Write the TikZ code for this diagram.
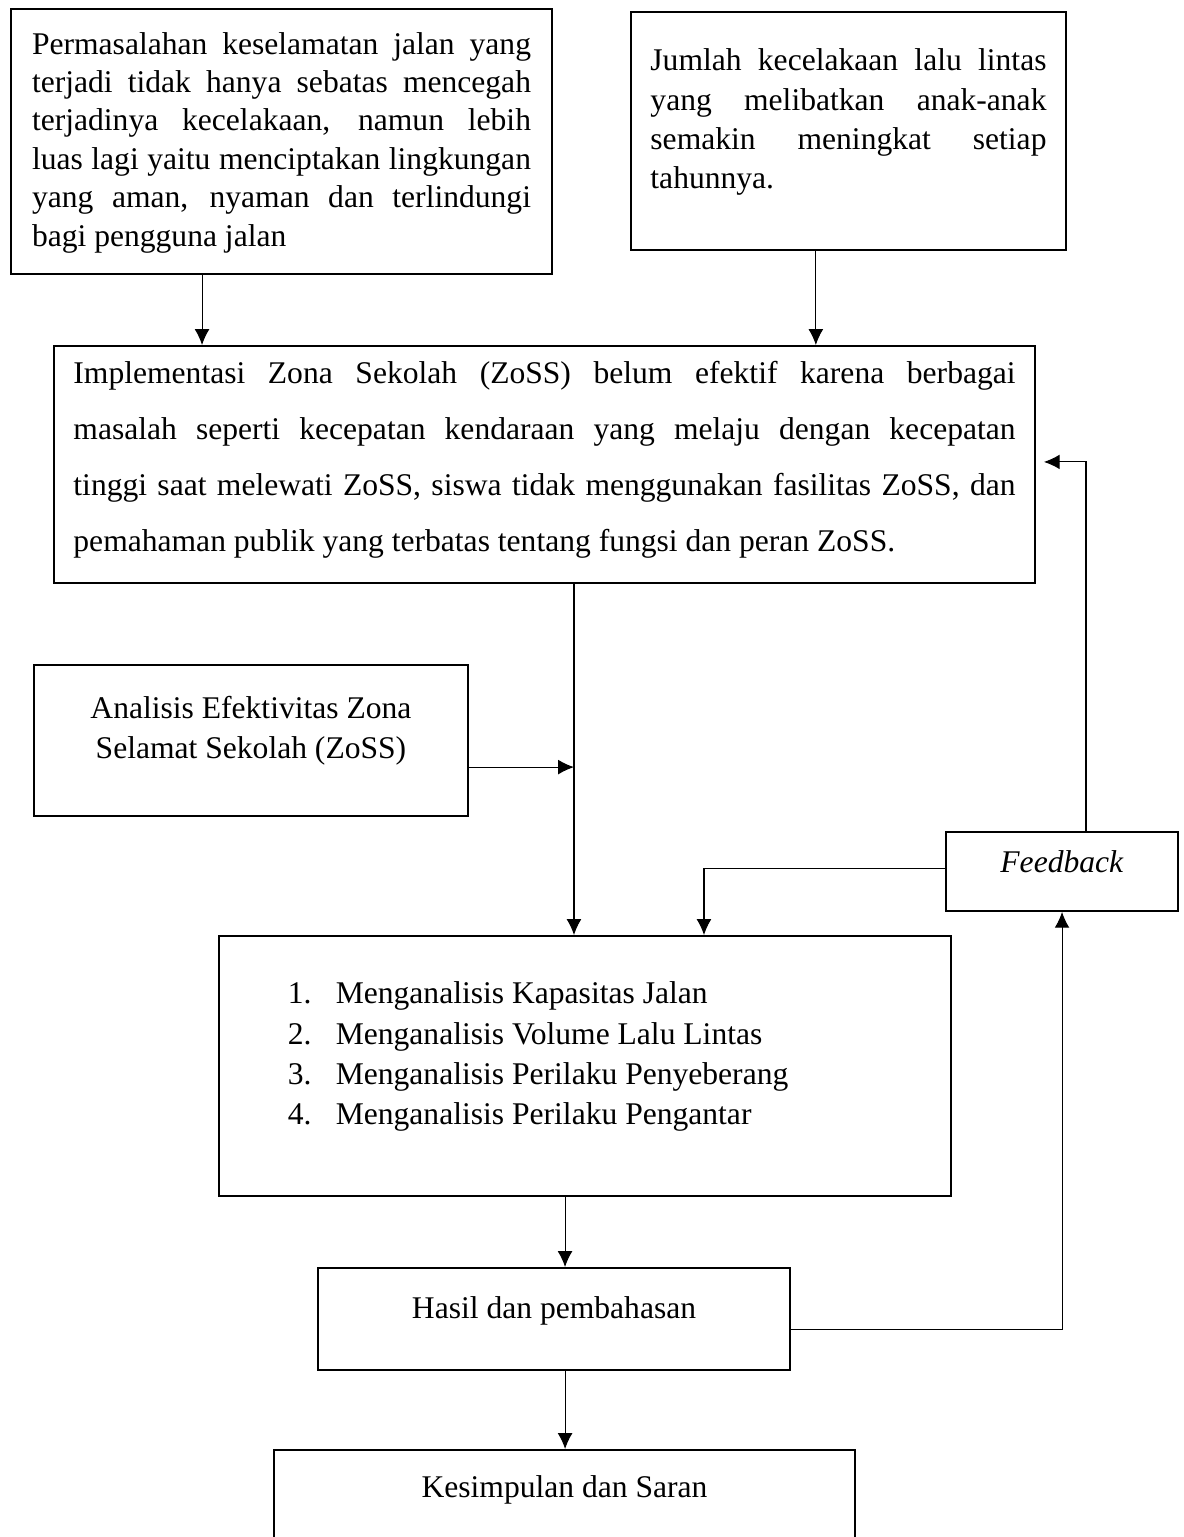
\documentclass[tikz,border=0pt]{standalone}
\usepackage{fontspec}
\setmainfont{Liberation Serif}
\usetikzlibrary{arrows.meta}
\newcommand{\padb}[1]{\rule[-#1]{0pt}{#1}}
\newcommand{\jline}[1]{{\spaceskip=0pt\xspaceskip=0pt\makebox[\hsize][s]{#1}}}
\tikzstyle{box} = [rectangle, draw, line width=0.75pt, anchor=north west,
    inner ysep=0pt, inner xsep=7.4pt, align=flush left, font=\fontsize{12}{14.8}\selectfont]
\tikzstyle{cbox} = [box, align=flush center]
\tikzstyle{line} = [draw, line width=0.4pt, -{Latex[length=6pt,width=5.6pt]}]
\begin{document}
\begin{tikzpicture}[x=0.38pt, y=-0.38pt]
    \useasboundingbox (0,0) rectangle (1184,1537);
    % Place nodes
    \node [box, text width=189.6pt, inner xsep=8pt, text height=17.1pt,
        font=\fontsize{12}{14.6}\selectfont] (perm) at (10,8)
        {\jline{Permasalahan keselamatan jalan yang}\\
         \jline{terjadi tidak hanya sebatas mencegah}\\
         \jline{terjadinya kecelakaan, namun lebih}\\
         \jline{luas lagi yaitu menciptakan lingkungan}\\
         \jline{yang aman, nyaman dan terlindungi}\\
         bagi pengguna jalan\padb{10.6pt}};
    \node [box, text width=150.5pt, text height=22.4pt,
        font=\fontsize{12}{14.9}\selectfont] (jumlah) at (630,11)
        {\jline{Jumlah kecelakaan lalu lintas}\\
         \jline{yang melibatkan anak-anak}\\
         \jline{semakin meningkat setiap}\\
         tahunnya.\padb{23.3pt}};
    \node [box, text width=358pt, text height=14.4pt,
        font=\fontsize{12}{21.2}\selectfont] (impl) at (53,345)
        {\jline{Implementasi Zona Sekolah (ZoSS) belum efektif karena berbagai}\\
         \jline{masalah seperti kecepatan kendaraan yang melaju dengan kecepatan}\\
         \jline{tinggi saat melewati ZoSS, siswa tidak menggunakan fasilitas ZoSS, dan}\\
         pemahaman publik yang terbatas tentang fungsi dan peran ZoSS.\padb{12.1pt}};
    \node [cbox, text width=150pt, inner xsep=7.45pt, text height=20.5pt,
        font=\fontsize{12}{15.2}\selectfont] (analisis) at (33,664)
        {Analisis Efektivitas Zona\\ Selamat Sekolah (ZoSS)\padb{21.7pt}};
    \node [cbox, text width=74pt, inner xsep=7.1pt, text height=15.2pt] (feedback) at (945,831)
        {\textit{Feedback}\padb{14.8pt}};
    \node [box, text width=278.2pt, inner xsep=0pt, text height=25.8pt,
        font=\fontsize{12}{15.3}\selectfont] (list) at (218,935)
        {\hspace*{26.2pt}\makebox[18.2pt][l]{1.}Menganalisis Kapasitas Jalan\\
         \hspace*{26.2pt}\makebox[18.2pt][l]{2.}Menganalisis Volume Lalu Lintas\\
         \hspace*{26.2pt}\makebox[18.2pt][l]{3.}Menganalisis Perilaku Penyeberang\\
         \hspace*{26.2pt}\makebox[18.2pt][l]{4.}Menganalisis Perilaku Pengantar\padb{27.1pt}};
    \node [cbox, text width=165pt, inner xsep=7.2pt, text height=19pt] (hasil) at (317,1267)
        {Hasil dan pembahasan\padb{19.8pt}};
    \node [cbox, text width=206.4pt, inner xsep=7.2pt, text height=18.2pt] (kesimpulan) at (273,1449)
        {Kesimpulan dan Saran\padb{20.5pt}};

    % Draw edges
    \path [line] ([xshift=-30.2pt]perm.south) -- ([xshift=-30.2pt]perm.south |- impl.north);
    \path [line] ([xshift=-12.4pt]jumlah.south) -- ([xshift=-12.4pt]jumlah.south |- impl.north);
    \path [line] ([xshift=11.2pt]impl.south) coordinate (trunk) -- (trunk |- list.north);
    \path [line] ([yshift=-10.1pt]analisis.east) -- ([yshift=-10.1pt]analisis.east -| trunk);
    \path [line] ([yshift=1.3pt]feedback.west) -| ([xshift=45.2pt]list.north);
    \path [line, shorten >=3pt] ([xshift=9.1pt]feedback.north) |- ([yshift=1pt]impl.east);
    \path [line] ([xshift=-7.6pt]list.south) -- ([xshift=-7.6pt]list.south |- hasil.north);
    \path [line] ([xshift=4.2pt]hasil.south) -- ([xshift=4.2pt]hasil.south |- kesimpulan.north);
    \path [line] ([yshift=-3.8pt]hasil.east) -| (feedback.south);
\end{tikzpicture}
\end{document}
